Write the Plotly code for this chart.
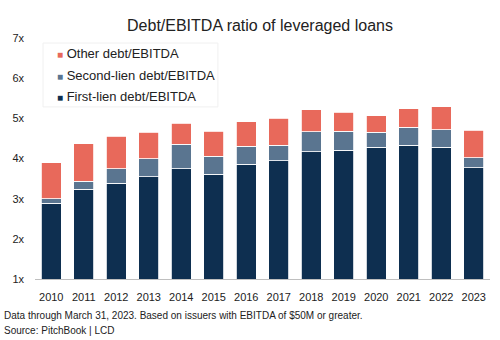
import plotly.graph_objects as go

years = ["2010", "2011", "2012", "2013", "2014", "2015", "2016",
         "2017", "2018", "2019", "2020", "2021", "2022", "2023"]

# Leverage multiples (x EBITDA) by layer
first_lien = [2.89, 3.24, 3.39, 3.54, 3.75, 3.61, 3.86, 3.94, 4.17, 4.21, 4.28, 4.33, 4.28, 3.77]
second_lien = [0.11, 0.19, 0.35, 0.45, 0.61, 0.45, 0.44, 0.39, 0.49, 0.47, 0.37, 0.45, 0.43, 0.25]
other_debt = [0.90, 0.94, 0.82, 0.66, 0.52, 0.62, 0.62, 0.67, 0.55, 0.47, 0.42, 0.46, 0.58, 0.68]

y_ticks = [1, 2, 3, 4, 5, 6, 7]
y_tick_labels = ["1x", "2x", "3x", "4x", "5x", "6x", "7x"]

series = [
    ("First-lien debt/EBITDA", first_lien, "#0E2F50"),
    ("Second-lien debt/EBITDA", second_lien, "#5A7590"),
    ("Other debt/EBITDA", other_debt, "#E8695B"),
]

font_family = "Liberation Sans, Arial, sans-serif"
text_color = "#222222"

fig = go.Figure()
for name, vals, color in series:
    fig.add_trace(go.Bar(
        x=years, y=vals, name=name, showlegend=False,
        marker=dict(color=color, line=dict(color="white", width=0.8)),
    ))

fig.update_layout(
    width=500, height=340,
    barmode="stack",
    bargap=0.38,
    paper_bgcolor="white",
    plot_bgcolor="white",
    margin=dict(l=35, r=10, t=38, b=61),
    font=dict(family=font_family, color=text_color),
    title=dict(
        text="Debt/EBITDA ratio of leveraged loans",
        x=0.52, xanchor="center", y=0.925, yanchor="middle",
        font=dict(size=16, family=font_family, color=text_color),
    ),
)

fig.update_xaxes(
    showline=True, linecolor="#BFBFBF", linewidth=1,
    ticks="", showgrid=False, ticklabelstandoff=8,
    tickfont=dict(size=11, family=font_family, color=text_color),
)
fig.update_yaxes(
    range=[1, 7], tickvals=y_ticks, ticktext=y_tick_labels,
    showgrid=False, zeroline=False, showline=False, ticks="",
    ticklabelstandoff=10,
    tickfont=dict(size=11, family=font_family, color=text_color),
)

# Legend box, top-down order: other, second-lien, first-lien
fig.add_shape(
    type="rect", xref="paper", yref="paper",
    x0=0.0176, x1=0.402, y0=0.714, y1=0.979,
    fillcolor="white", line=dict(color="#F0F0F0", width=1), layer="above",
)
legend_rows_y = [0.934, 0.845, 0.757]
for (name, _, color), ly in zip(reversed(series), legend_rows_y):
    fig.add_annotation(
        text=f"<span style='color:{color};font-size:10px'>■</span> {name}",
        xref="paper", yref="paper", x=0.045, y=ly,
        xanchor="left", yanchor="middle", showarrow=False,
        font=dict(size=13, family=font_family, color=text_color),
    )

notes = [
    "Data through March 31, 2023. Based on issuers with EBITDA of $50M or greater.",
    "Source: PitchBook | LCD",
]
for i, note in enumerate(notes):
    fig.add_annotation(
        text=note, xref="paper", yref="paper",
        x=-0.072, y=(279 - 315 - 15 * i) / 241,
        xanchor="left", yanchor="middle", showarrow=False,
        font=dict(size=10, family=font_family, color=text_color),
    )

fig.write_html("out.html")
